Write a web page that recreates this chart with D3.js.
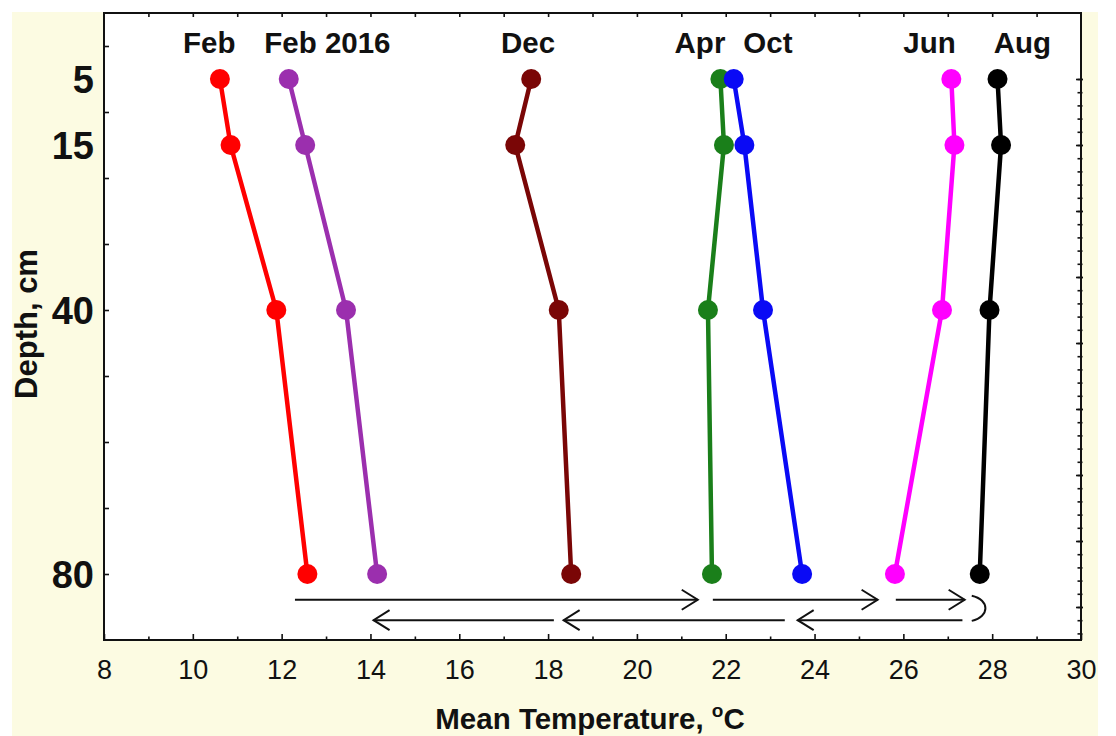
<!DOCTYPE html>
<html>
<head>
<meta charset="utf-8">
<script src="https://cdn.jsdelivr.net/npm/d3@7"></script>
<style>
  html, body { margin: 0; padding: 0; background: #ffffff; }
  svg { display: block; }
  text { font-family: "Liberation Sans", Arial, sans-serif; }
</style>
</head>
<body>
<svg id="chart" width="1116" height="736"></svg>
<script>
// ---- data ----
const depths = [5, 15, 40, 80];
const seriesNames = ["Feb", "Feb 2016", "Dec", "Apr", "Oct", "Jun", "Aug"];
const febTemps     = [10.61, 10.85, 11.88, 12.58];
const feb2016Temps = [12.16, 12.53, 13.45, 14.15];
const decTemps     = [17.62, 17.26, 18.24, 18.52];
const aprTemps     = [21.88, 21.96, 21.60, 21.69];
const octTemps     = [22.18, 22.42, 22.84, 23.72];
const junTemps     = [27.08, 27.15, 26.87, 25.81];
const augTemps     = [28.12, 28.20, 27.94, 27.72];
const seriesValues = [febTemps, feb2016Temps, decTemps, aprTemps, octTemps, junTemps, augTemps];
const seriesColors = ["#ff0000", "#9b2fae", "#7a0606", "#1a7f1a", "#0a0af5", "#ff00ff", "#000000"];

// label anchor positions (data units)
const labelTemps = [10.37, 13.03, 17.55, 21.42, 22.95, 26.59, 28.68];
const labelDepth = 1.06;

// axis tick labels
const xTickLabels = [8, 10, 12, 14, 16, 18, 20, 22, 24, 26, 28, 30];
const yTickLabels = [5, 15, 40, 80];

// seasonal-cycle arrows (data units)
const arrowFrom  = [12.30, 21.71, 25.83, 27.33, 23.33, 18.13];
const arrowTo    = [21.37, 25.42, 27.38, 23.62, 18.35, 14.07];
const arrowDepth = [83.9, 83.9, 83.9, 87.0, 87.0, 87.0];
const turnTemps  = [27.54, 27.95, 27.95, 27.54];
const turnDepths = [83.3, 83.9, 86.5, 87.1];

// ---- layout ----
const svg = d3.select("#chart");
const L = 104, R = 1081, T = 13, B = 640;
const x = d3.scaleLinear().domain([8, 30]).range([L, R]);
const y = d3.scaleLinear().domain([-5, 90]).range([T, B]);

// cream page background
svg.append("rect").attr("x", 12).attr("y", 12).attr("width", 1086).attr("height", 724).attr("fill", "#fcfbe2");
// plot area
svg.append("rect").attr("x", L).attr("y", T).attr("width", R - L).attr("height", B - T).attr("fill", "#ffffff");

// ---- axes ----
const noDomain = g => g.select(".domain").remove();

// bottom major
const gx = svg.append("g").attr("transform", `translate(0,${B})`)
  .call(d3.axisBottom(x).tickValues(xTickLabels).tickSizeInner(-6).tickSizeOuter(0).tickPadding(20).tickFormat(d3.format("d")))
  .call(noDomain);
gx.selectAll("text").attr("font-size", 27).attr("fill", "#111").attr("font-family", "'Liberation Sans', Arial, sans-serif");
// bottom minor
svg.append("g").attr("transform", `translate(0,${B})`)
  .call(d3.axisBottom(x).tickValues(d3.range(9, 30, 2)).tickSizeInner(-3.5).tickSizeOuter(0).tickFormat(""))
  .call(noDomain);
// top ticks
svg.append("g").attr("transform", `translate(0,${T})`)
  .call(d3.axisTop(x).tickValues(d3.range(9, 30, 1)).tickSizeInner(-4).tickSizeOuter(0).tickFormat(""))
  .call(noDomain);
// left ticks
svg.append("g").attr("transform", `translate(${L},0)`)
  .call(d3.axisLeft(y).tickValues(d3.range(0, 90, 10)).tickSizeInner(-5).tickSizeOuter(0).tickFormat(""))
  .call(noDomain);
// left labels
const gy = svg.append("g").attr("transform", `translate(${L},0)`)
  .call(d3.axisLeft(y).tickValues(yTickLabels).tickSize(0).tickPadding(10).tickFormat(d3.format("d")))
  .call(noDomain);
gy.selectAll("text").attr("font-size", 38).attr("font-weight", "bold").attr("fill", "#111")
  .attr("font-family", "'Liberation Sans', Arial, sans-serif").attr("dy", "0.36em");
// right ticks (major + minor)
svg.append("g").attr("transform", `translate(${R + 2},0)`)
  .call(d3.axisRight(y).tickValues(d3.range(5, 90, 10)).tickSizeInner(-7).tickSizeOuter(0).tickFormat(""))
  .call(noDomain);
svg.append("g").attr("transform", `translate(${R + 1.5},0)`)
  .call(d3.axisRight(y).tickValues(d3.range(5, 90, 2)).tickSizeInner(-5).tickSizeOuter(0).tickFormat(""))
  .call(noDomain);
svg.selectAll(".tick line").attr("stroke", "#111").attr("stroke-width", 1.6);

// frame
svg.append("rect").attr("x", L).attr("y", T).attr("width", R - L).attr("height", B - T)
  .attr("fill", "none").attr("stroke", "#111").attr("stroke-width", 2);

// ---- series ----
const line = d3.line().x(d => x(d[0])).y(d => y(d[1]));
seriesValues.forEach((vals, i) => {
  const pts = vals.map((v, j) => [v, depths[j]]);
  svg.append("path").datum(pts).attr("d", line)
    .attr("fill", "none").attr("stroke", seriesColors[i]).attr("stroke-width", 4.5).attr("stroke-linejoin", "round");
  svg.append("g").selectAll("circle").data(pts).join("circle")
    .attr("cx", d => x(d[0])).attr("cy", d => y(d[1])).attr("r", 10).attr("fill", seriesColors[i]);
});

// series labels
svg.append("g").selectAll("text").data(seriesNames).join("text")
  .attr("x", (d, i) => x(labelTemps[i])).attr("y", y(labelDepth))
  .attr("text-anchor", "middle").attr("font-size", 29.5).attr("font-weight", "bold").attr("fill", "#111")
  .text(d => d);

// ---- arrows ----
const ag = svg.append("g").attr("stroke", "#111").attr("stroke-width", 2).attr("fill", "none");
arrowFrom.forEach((f, i) => {
  const x0 = x(f), x1 = x(arrowTo[i]), yy = y(arrowDepth[i]);
  const dir = x1 > x0 ? 1 : -1;
  ag.append("line").attr("x1", x0).attr("y1", yy).attr("x2", x1).attr("y2", yy);
  ag.append("path").attr("d", `M${x1 - dir * 16},${yy - 10}L${x1},${yy}L${x1 - dir * 16},${yy + 10}`)
    .attr("stroke-linejoin", "miter");
});
const tp = d3.path();
tp.moveTo(x(turnTemps[0]), y(turnDepths[0]));
tp.bezierCurveTo(x(turnTemps[1]), y(turnDepths[1]), x(turnTemps[2]), y(turnDepths[2]), x(turnTemps[3]), y(turnDepths[3]));
ag.append("path").attr("d", tp.toString());

// ---- axis titles ----
svg.append("text").attr("x", 590).attr("y", 729).attr("text-anchor", "middle")
  .attr("font-size", 29.5).attr("font-weight", "bold").attr("fill", "#111")
  .call(t => {
    t.append("tspan").text("Mean Temperature, ");
    t.append("tspan").attr("font-size", 19).attr("dy", "-12").text("o");
    t.append("tspan").attr("dy", "12").text("C");
  });
svg.append("text").attr("transform", "translate(37,324) rotate(-90)").attr("text-anchor", "middle")
  .attr("font-size", 31).attr("font-weight", "bold").attr("fill", "#111").text("Depth, cm");
</script>
</body>
</html>
